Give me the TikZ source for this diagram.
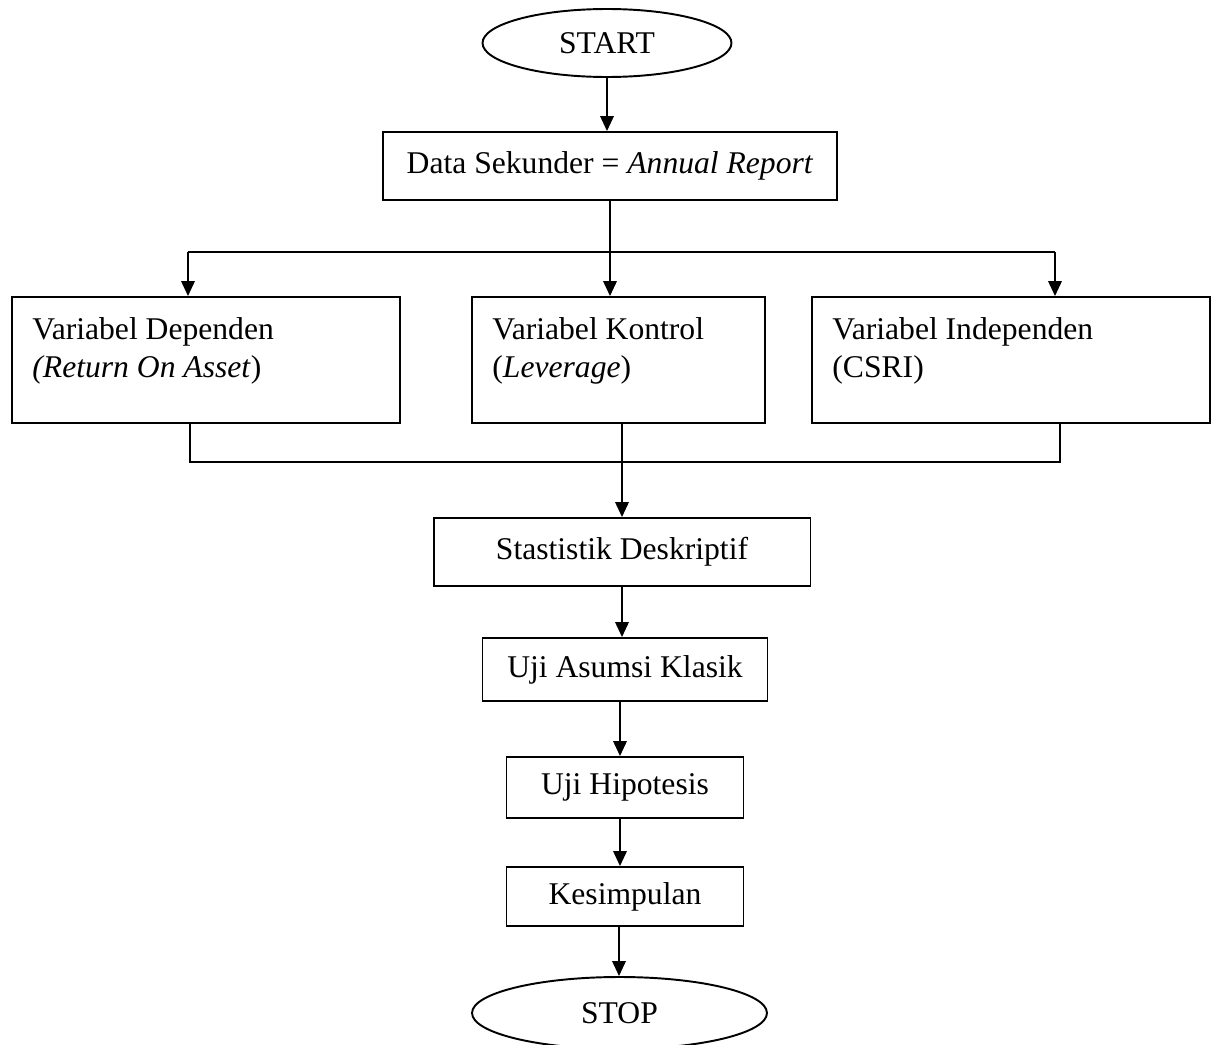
\documentclass[tikz,border=0pt]{standalone}
\usepackage{fontspec}
\setmainfont{Liberation Serif}
\usepackage{tikz}
\usetikzlibrary{positioning}
\usetikzlibrary{shapes.geometric}
\usetikzlibrary{arrows.meta}
\usetikzlibrary{calc}

\tikzset{
  process/.style={draw, rectangle, line width=1.1pt, inner sep=0pt},
  terminator/.style={draw, ellipse, line width=1.1pt, inner sep=0pt},
  vartext/.style={anchor=north west, inner sep=0pt, align=left},
  flow/.style={line width=1.1pt, -{Triangle[width=0.27cm,length=0.3cm]}},
  joint/.style={line width=1.1pt}
}

\begin{document}
\begin{tikzpicture}[x=0.02cm,y=-0.02cm,font=\fontsize{18}{22}\selectfont]
  \useasboundingbox (0,0) rectangle (1211,1045);
  \node [terminator, minimum width=4.98cm, minimum height=1.36cm] (Start) at (607,43) {START};
  \node [process, minimum width=9.08cm, minimum height=1.36cm] (Data) at (610,166) {Data Sekunder = \textit{Annual Report}};
  \node [process, minimum width=7.76cm, minimum height=2.52cm] (Dependen) at (206,360) {};
  \node [process, minimum width=5.86cm, minimum height=2.52cm] (Kontrol) at (618.5,360) {};
  \node [process, minimum width=7.96cm, minimum height=2.52cm] (Independen) at (1011,360) {};
  \node [vartext] (DependenText) at ($(Dependen.north west)+(21,21)$) {Variabel Dependen\\\textit{(Return On Asset})};
  \node [vartext] (KontrolText) at ($(Kontrol.north west)+(21,21)$) {Variabel Kontrol\\(\textit{Leverage})};
  \node [vartext] (IndependenText) at ($(Independen.north west)+(21,21)$) {Variabel Independen\\(CSRI)};
  \node [process, minimum width=7.54cm, minimum height=1.36cm] (Deskriptif) at (622,552) {Stastistik Deskriptif};
  \node [process, minimum width=5.7cm, minimum height=1.26cm] (Asumsi) at (625,669.5) {Uji Asumsi Klasik};
  \node [process, minimum width=4.74cm, minimum height=1.22cm] (Hipotesis) at (625,787.5) {Uji Hipotesis};
  \node [process, minimum width=4.74cm, minimum height=1.18cm] (Kesimpulan) at (625,896.5) {Kesimpulan};
  \node [terminator, minimum width=5.9cm, minimum height=1.44cm] (Stop) at (619.5,1013) {STOP};
  \coordinate (SplitL) at (188,252);
  \coordinate (SplitR) at (1055,252);
  \coordinate (MergeL) at (190,462);
  \coordinate (MergeR) at (1060,462);
  \draw[flow] (Start.south) -- (Start.south |- Data.north);
  \draw[joint] (Data.south) -- (Data.south |- SplitL);
  \draw[joint] (SplitL) -- (SplitR);
  \draw[flow] (SplitL) -- (SplitL |- Dependen.north);
  \draw[flow] (Data.south |- SplitL) -- (Data.south |- Kontrol.north);
  \draw[flow] (SplitR) -- (SplitR |- Independen.north);
  \draw[joint] (MergeL |- Dependen.south) -- (MergeL) -- (MergeR) -- (MergeR |- Independen.south);
  \draw[flow] (Deskriptif.north |- Kontrol.south) -- (Deskriptif.north);
  \draw[flow] (Deskriptif.south) -- (Deskriptif.south |- Asumsi.north);
  \draw[flow] ($(Asumsi.south)+(-5,0)$) -- ($(Asumsi.south |- Hipotesis.north)+(-5,0)$);
  \draw[flow] ($(Hipotesis.south)+(-5,0)$) -- ($(Hipotesis.south |- Kesimpulan.north)+(-5,0)$);
  \draw[flow] ($(Kesimpulan.south)+(-6,0)$) -- ($(Kesimpulan.south |- Stop.north)+(-6,0)$);
\end{tikzpicture}
\end{document}
